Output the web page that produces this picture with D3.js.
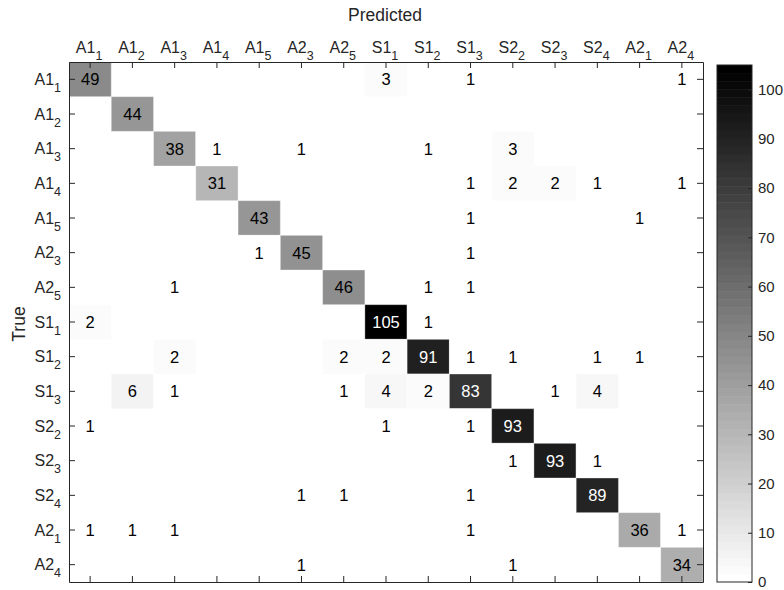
<!DOCTYPE html>
<html>
<head>
<meta charset="utf-8">
<script src="https://d3js.org/d3.v7.min.js"></script>
<style>
  body { margin: 0; background: #fff; }
  svg text { font-family: "Liberation Sans", Arial, Helvetica, sans-serif; fill: #262626; }
</style>
</head>
<body>
<div id="chart"></div>
<script>
(function() {
    // class labels, written as base_subscript
    var classes = ["A1_1", "A1_2", "A1_3", "A1_4", "A1_5", "A2_3", "A2_5",
                   "S1_1", "S1_2", "S1_3", "S2_2", "S2_3", "S2_4", "A2_1", "A2_4"];

    // rows = true class, columns = predicted class
    var matrix = [
        [49, 0, 0, 0, 0, 0, 0, 3, 0, 1, 0, 0, 0, 0, 1],
        [0, 44, 0, 0, 0, 0, 0, 0, 0, 0, 0, 0, 0, 0, 0],
        [0, 0, 38, 1, 0, 1, 0, 0, 1, 0, 3, 0, 0, 0, 0],
        [0, 0, 0, 31, 0, 0, 0, 0, 0, 1, 2, 2, 1, 0, 1],
        [0, 0, 0, 0, 43, 0, 0, 0, 0, 1, 0, 0, 0, 1, 0],
        [0, 0, 0, 0, 1, 45, 0, 0, 0, 1, 0, 0, 0, 0, 0],
        [0, 0, 1, 0, 0, 0, 46, 0, 1, 1, 0, 0, 0, 0, 0],
        [2, 0, 0, 0, 0, 0, 0, 105, 1, 0, 0, 0, 0, 0, 0],
        [0, 0, 2, 0, 0, 0, 2, 2, 91, 1, 1, 0, 1, 1, 0],
        [0, 6, 1, 0, 0, 0, 1, 4, 2, 83, 0, 1, 4, 0, 0],
        [1, 0, 0, 0, 0, 0, 0, 1, 0, 1, 93, 0, 0, 0, 0],
        [0, 0, 0, 0, 0, 0, 0, 0, 0, 0, 1, 93, 1, 0, 0],
        [0, 0, 0, 0, 0, 1, 1, 0, 0, 1, 0, 0, 89, 0, 0],
        [1, 1, 1, 0, 0, 0, 0, 0, 0, 1, 0, 0, 0, 36, 1],
        [0, 0, 0, 0, 0, 1, 0, 0, 0, 0, 1, 0, 0, 0, 34]
    ];

    var colorTicks = [0, 10, 20, 30, 40, 50, 60, 70, 80, 90, 100];
    var colorMax = 105;

    var width = 784, height = 590;
    var plot = {left: 69, right: 703, top: 62, bottom: 582};
    var cbar = {left: 717, right: 752, top: 65, bottom: 582};
    var axisColor = "#262626";
    var nLevels = 64;

    var svg = d3.select("#chart")
        .append("svg")
        .attr("width", width)
        .attr("height", height);

    var x = d3.scaleBand().domain(d3.range(classes.length)).range([plot.left, plot.right]);
    var y = d3.scaleBand().domain(d3.range(classes.length)).range([plot.top, plot.bottom]);

    // matlab style: 64 level reversed gray colormap
    function level(v) {
        var idx = Math.floor(v / colorMax * nLevels);
        return Math.max(0, Math.min(nLevels - 1, idx));
    }
    var grayScale = d3.scaleLinear().domain([0, nLevels - 1]).range([255, 0]);
    function color(v) {
        var g = Math.round(grayScale(level(v)));
        return d3.rgb(g, g, g);
    }

    var cells = [];
    matrix.forEach(function(row, i) {
        row.forEach(function(v, j) {
            cells.push({row: i, col: j, value: v});
        });
    });

    var nonzero = cells.filter(function(d) { return d.value > 0; });

    svg.append("g")
        .selectAll("rect")
        .data(nonzero)
        .enter()
        .append("rect")
        .attr("x", function(d) { return x(d.col); })
        .attr("y", function(d) { return y(d.row); })
        .attr("width", x.bandwidth())
        .attr("height", y.bandwidth())
        .style("fill", function(d) { return color(d.value); })
        .style("stroke", "#fff")
        .style("stroke-opacity", 0.35)
        .style("stroke-width", 1);

    svg.append("g")
        .selectAll("text")
        .data(nonzero)
        .enter()
        .append("text")
        .attr("x", function(d) { return x(d.col) + x.bandwidth() / 2; })
        .attr("y", function(d) { return y(d.row) + y.bandwidth() / 2; })
        .attr("dy", "0.36em")
        .style("text-anchor", "middle")
        .style("font-size", "16.5px")
        .style("fill", function(d) { return color(d.value).r < 128 ? "#fff" : "#000"; })
        .text(function(d) { return d.value; });

    // box with inward ticks on all four sides
    function styleAxis(g) {
        g.selectAll("path, line").style("stroke", axisColor);
        g.selectAll("text").remove();
    }
    svg.append("g").attr("transform", "translate(0," + plot.top + ")")
        .call(d3.axisTop(x).tickSizeInner(-6).tickSizeOuter(0)).call(styleAxis);
    svg.append("g").attr("transform", "translate(0," + plot.bottom + ")")
        .call(d3.axisBottom(x).tickSizeInner(-6).tickSizeOuter(0)).call(styleAxis);
    svg.append("g").attr("transform", "translate(" + plot.left + ",0)")
        .call(d3.axisLeft(y).tickSizeInner(-6).tickSizeOuter(0)).call(styleAxis);
    svg.append("g").attr("transform", "translate(" + plot.right + ",0)")
        .call(d3.axisRight(y).tickSizeInner(-6).tickSizeOuter(0)).call(styleAxis);

    function addLabel(sel) {
        sel.each(function(d) {
            var parts = classes[d].split("_");
            var t = d3.select(this);
            t.append("tspan").text(parts[0]);
            t.append("tspan").attr("dy", 7).style("font-size", "12.5px").text(parts[1]);
        });
    }

    svg.append("g")
        .selectAll("text")
        .data(d3.range(classes.length))
        .enter()
        .append("text")
        .attr("x", function(d) { return x(d) + x.bandwidth() / 2 - 1; })
        .attr("y", plot.top - 9.5)
        .style("text-anchor", "middle")
        .style("font-size", "16px")
        .call(addLabel);

    svg.append("g")
        .selectAll("text")
        .data(d3.range(classes.length))
        .enter()
        .append("text")
        .attr("x", plot.left - 8)
        .attr("y", function(d) { return y(d) + y.bandwidth() / 2 + 5.5; })
        .style("text-anchor", "end")
        .style("font-size", "16px")
        .call(addLabel);

    svg.append("text")
        .attr("x", (plot.left + plot.right) / 2 - 1)
        .attr("y", 21)
        .style("text-anchor", "middle")
        .style("font-size", "17.5px")
        .text("Predicted");

    svg.append("text")
        .attr("transform", "translate(25," + ((plot.top + plot.bottom) / 2 + 2) + ") rotate(-90)")
        .style("text-anchor", "middle")
        .style("font-size", "17.5px")
        .text("True");

    // colorbar
    var cy = d3.scaleLinear().domain([0, colorMax]).range([cbar.bottom, cbar.top]);
    var bands = d3.range(nLevels);
    svg.append("g")
        .selectAll("rect")
        .data(bands)
        .enter()
        .append("rect")
        .attr("x", cbar.left)
        .attr("width", cbar.right - cbar.left)
        .attr("y", function(k) { return cy((k + 1) * colorMax / nLevels); })
        .attr("height", function(k) { return cy(k * colorMax / nLevels) - cy((k + 1) * colorMax / nLevels) + 0.5; })
        .style("fill", function(k) {
            var g = Math.round(grayScale(k));
            return d3.rgb(g, g, g);
        });

    svg.append("rect")
        .attr("x", cbar.left)
        .attr("y", cbar.top)
        .attr("width", cbar.right - cbar.left)
        .attr("height", cbar.bottom - cbar.top)
        .style("fill", "none")
        .style("stroke", axisColor)
        .style("stroke-width", 1);

    var cAxis = svg.append("g")
        .attr("transform", "translate(" + cbar.right + ",0)")
        .call(d3.axisRight(cy).tickValues(colorTicks).tickSizeInner(-4).tickSizeOuter(0).tickPadding(6));
    cAxis.select(".domain").remove();
    cAxis.selectAll("line").style("stroke", axisColor);
    cAxis.selectAll("text")
        .style("font-size", "15px")
        .style("font-family", "'Liberation Sans', Arial, sans-serif")
        .style("fill", axisColor);
})();
</script>
</body>
</html>
